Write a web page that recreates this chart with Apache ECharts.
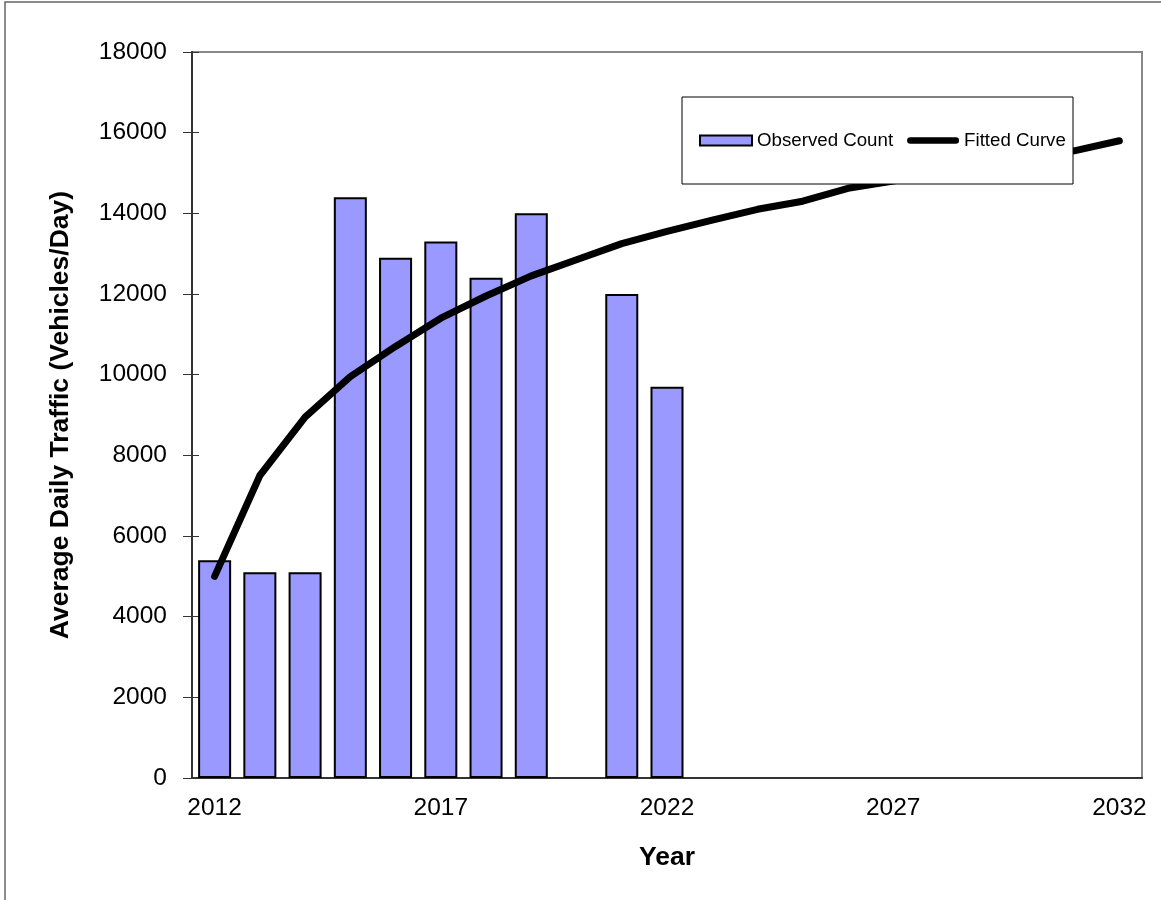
<!DOCTYPE html>
<html>
<head>
<meta charset="utf-8">
<script src="https://cdn.jsdelivr.net/npm/echarts@6/dist/echarts.min.js"></script>
<style>
  html, body { margin: 0; padding: 0; background: #fff; }
  #chart { width: 1161px; height: 900px; }
</style>
</head>
<body>
<div id="chart"></div>
<script>
  // years on the category axis
  const years = ['2012', '2013', '2014', '2015', '2016', '2017', '2018', '2019', '2020', '2021', '2022',
    '2023', '2024', '2025', '2026', '2027', '2028', '2029', '2030', '2031', '2032'];

  // observed counts (no count in 2020, none after 2022)
  const observed = [5400, 5100, 5100, 14400, 12900, 13300, 12400, 14000, null, 12000, 9700,
    null, null, null, null, null, null, null, null, null, null];

  // fitted curve
  const fitted = [5000, 7500, 8950, 9950, 10700, 11400, 11950, 12450, 12850, 13250, 13550,
    13830, 14100, 14300, 14620, 14800, 15000, 15200, 15380, 15550, 15800];

  const font = 'Liberation Sans, Arial, sans-serif';
  // thick rounded line for the legend (moveTo corners keep the full box)
  const lineIcon = 'path://M0,0 L0,0 M3.5,1.5 L51.5,1.5 A3.5,3.5 0 0 1 51.5,8.5 L3.5,8.5 A3.5,3.5 0 0 1 3.5,1.5 Z M55,10 L55,10';

  const chart = echarts.init(document.getElementById('chart'));

  const option = {
    animation: false,
    backgroundColor: '#fff',
    textStyle: { fontFamily: font, color: '#000' },
    graphic: [
      {
        type: 'rect',
        shape: { x: 5, y: 2, width: 1165, height: 910 },
        style: { fill: 'none', stroke: '#666', lineWidth: 1.5 },
        z: 0,
      },
      {
        type: 'rect',
        shape: { x: 682, y: 97, width: 391, height: 87 },
        style: { fill: '#fff', stroke: '#000', lineWidth: 1 },
        z: 9,
      },
    ],
    legend: {
      left: 699,
      top: 131,
      padding: 0,
      z: 10,
      itemWidth: 52,
      itemHeight: 10,
      itemGap: 14,
      textStyle: { fontSize: 18.7, fontFamily: font, color: '#000' },
      data: [
        { name: 'Observed Count', icon: 'rect' },
        { name: 'Fitted Curve', icon: lineIcon, itemStyle: { color: '#000' } },
      ],
    },
    grid: {
      left: 192,
      right: 19,
      top: 52,
      bottom: 122,
      show: true,
      borderColor: '#888',
      borderWidth: 2,
    },
    xAxis: [
      {
        type: 'category',
        data: years,
        position: 'bottom',
        name: 'Year',
        nameLocation: 'middle',
        nameGap: 66,
        nameTextStyle: { fontSize: 26.5, fontWeight: 'bold', fontFamily: font, color: '#000' },
        axisLine: { lineStyle: { color: '#333', width: 2 } },
        axisTick: { interval: 0, length: 8, lineStyle: { color: '#333' } },
        axisLabel: { interval: 4, fontSize: 24.5, margin: 18, color: '#000', fontFamily: font },
      },
      {
        type: 'category',
        data: years,
        position: 'bottom',
        axisLine: { show: false },
        axisTick: { interval: 0, inside: true, length: 8, lineStyle: { color: '#333' } },
        axisLabel: { show: false },
      },
    ],
    yAxis: [
      {
        type: 'value',
        min: 0,
        max: 18000,
        interval: 2000,
        name: 'Average Daily Traffic (Vehicles/Day)',
        nameLocation: 'middle',
        nameGap: 118,
        nameTextStyle: { fontSize: 26.5, fontWeight: 'bold', fontFamily: font, color: '#000' },
        splitLine: { show: false },
        axisLine: { show: true, lineStyle: { color: '#333', width: 2 } },
        axisTick: { show: true, length: 9, lineStyle: { color: '#333' } },
        axisLabel: {
          fontSize: 24.5,
          margin: 25,
          color: '#000',
          fontFamily: font,
          formatter: (v) => String(v),
        },
      },
      {
        type: 'value',
        min: 0,
        max: 18000,
        interval: 2000,
        position: 'left',
        splitLine: { show: false },
        axisLine: { show: false },
        axisTick: { show: true, inside: true, length: 7, lineStyle: { color: '#333' } },
        axisLabel: { show: false },
      },
    ],
    series: [
      {
        name: 'Observed Count',
        type: 'bar',
        data: observed,
        barCategoryGap: '27%',
        itemStyle: { color: '#9999FF', borderColor: '#000', borderWidth: 2 },
        z: 2,
      },
      {
        name: 'Fitted Curve',
        type: 'line',
        data: fitted,
        showSymbol: false,
        symbol: 'none',
        lineStyle: { color: '#000', width: 7, cap: 'round', join: 'round' },
        itemStyle: { color: '#000' },
        z: 3,
      },
    ],
  };

  chart.setOption(option);
</script>
</body>
</html>
